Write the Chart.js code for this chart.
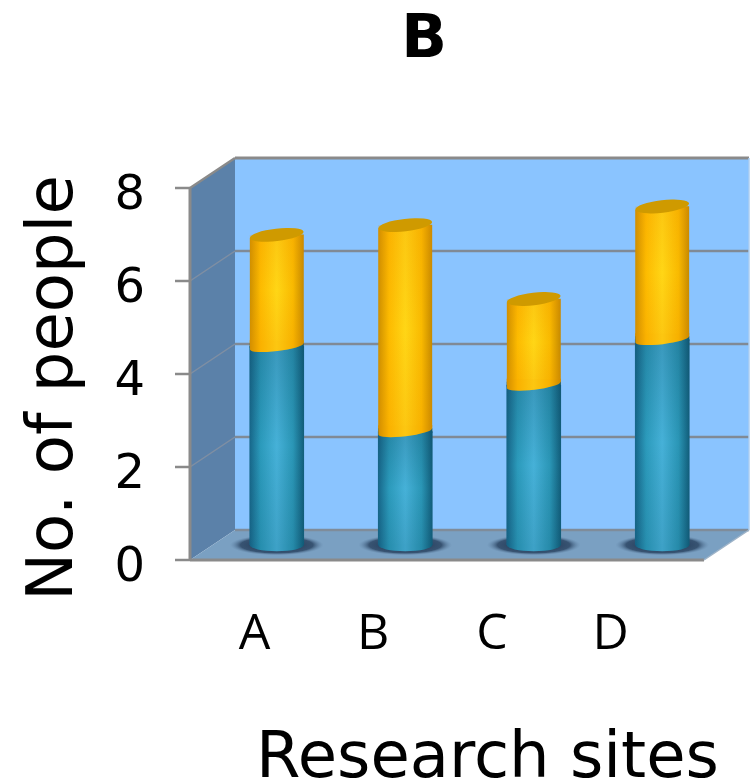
<!DOCTYPE html>
<html>
<head>
<meta charset="utf-8">
<style>
html,body{margin:0;padding:0;background:#fff}
canvas{display:block}
</style>
<script src="https://cdn.jsdelivr.net/npm/chart.js@4/dist/chart.umd.min.js"></script>
</head>
<body>
<canvas id="c" width="754" height="780"></canvas>
<script>
// Survey counts per research site
const sites = ['A', 'B', 'C', 'D'];
const lowerSegment = [4.27, 2.44, 3.44, 4.42];
const upperSegment = [2.40, 4.44, 1.85, 2.86];
const yTicks = [0, 2, 4, 6, 8];

const chartTitle = 'B';
const xTitle = 'Research sites';
const yTitle = 'No. of people';

// Pseudo-3D box: the scales describe the mid-depth plane of the box
const DEPTH_X = 22.5, DEPTH_Y = 15;
const FRAME = '#8a8a8a';
const TILT = 3.2, CAP_RY = 6.2;

const tealStops = ['#17678a', '#2b9abb', '#46b1d8', '#2a96b6', '#125f7c'];
const goldStops = ['#cc8f00', '#fdbb00', '#ffd616', '#f9ba00', '#c48900'];
const tealShade = a => `rgba(10,55,80,${a})`;
const goldShade = a => `rgba(240,140,0,${a})`;

function barGradient(ctx, left, width, stops) {
  const g = ctx.createLinearGradient(left, 0, left + width, 0);
  [0, 0.2, 0.5, 0.8, 1].forEach((p, i) => g.addColorStop(p, stops[i]));
  return g;
}

function scriptedFill(stops) {
  return c => {
    const chart = c.chart;
    if (!chart.chartArea || c.dataIndex === undefined) return stops[2];
    const x = chart.scales.x.getPixelForValue(c.dataIndex);
    return barGradient(chart.ctx, x - 27, 54, stops);
  };
}

const box3d = {
  id: 'box3d',
  beforeDatasetsDraw(chart) {
    const { ctx, chartArea: a, scales: { y } } = chart;
    const fl = a.left - DEPTH_X, fr = a.right - DEPTH_X;
    const bl = a.left + DEPTH_X, br = a.right + DEPTH_X;
    const py = v => y.getPixelForValue(v);
    const fy = v => py(v) + DEPTH_Y, by = v => py(v) - DEPTH_Y;
    const poly = (pts, fill) => {
      ctx.beginPath();
      pts.forEach((p, i) => i ? ctx.lineTo(p[0], p[1]) : ctx.moveTo(p[0], p[1]));
      ctx.closePath();
      ctx.fillStyle = fill;
      ctx.fill();
    };
    const line = (x1, y1, x2, y2, w, col) => {
      ctx.beginPath();
      ctx.moveTo(x1, y1);
      ctx.lineTo(x2, y2);
      ctx.lineWidth = w;
      ctx.strokeStyle = col || FRAME;
      ctx.stroke();
    };
    ctx.save();
    // walls and floor
    poly([[bl, by(8)], [br, by(8)], [br, by(0)], [bl, by(0)]], '#8ac4ff');
    poly([[fl, fy(8)], [bl, by(8)], [bl, by(0)], [fl, fy(0)]], '#5b81a9');
    poly([[fl, fy(0)], [fr, fy(0)], [br, by(0)], [bl, by(0)]], '#7aa0c2');
    // grid on the back and side walls, tick stubs on the front edge
    yTicks.forEach(v => {
      if (v > 0 && v < 8) {
        line(bl, by(v), br, by(v), 2.5, '#808a96');
        line(fl, fy(v), bl, by(v), 1.5, '#7f8fa3');
      }
      line(fl - 15, fy(v), fl, fy(v), 2.5);
    });
    // frame edges
    line(fl, fy(8), fl, fy(0), 3);
    line(fl, fy(8), bl, by(8), 2.5);
    line(bl, by(8), br, by(8), 3);
    line(fl, fy(0), fr, fy(0), 3);
    line(bl, by(0), br, by(0), 2.5, '#7f8c9a');
    line(fr, fy(0), br, by(0), 1.5, '#9fb4c8');
    line(br, by(8), br, by(0), 1.5, '#a9cdf2');
    // soft contact shadows on the floor
    chart.getDatasetMeta(0).data.forEach(bar => {
      ctx.save();
      ctx.translate(bar.x, bar.base);
      ctx.scale(1, 0.22);
      const g = ctx.createRadialGradient(0, 0, 20, 0, 0, 47);
      g.addColorStop(0, 'rgba(38,62,92,0.95)');
      g.addColorStop(0.6, 'rgba(44,70,100,0.85)');
      g.addColorStop(1, 'rgba(100,135,170,0)');
      ctx.fillStyle = g;
      ctx.beginPath();
      ctx.arc(0, 0, 47, 0, Math.PI * 2);
      ctx.fill();
      ctx.restore();
    });
    ctx.restore();
  },
  beforeDatasetDraw(chart, args) {
    // the slanted rim of each cap trims the upper corner of the bar
    const { ctx } = chart;
    ctx.save();
    if (args.index !== 1) return;
    ctx.beginPath();
    args.meta.data.forEach(bar => {
      const l = bar.x - bar.width / 2, r = bar.x + bar.width / 2;
      ctx.moveTo(l, bar.y + TILT);
      ctx.lineTo(r, bar.y - TILT);
      ctx.lineTo(r, bar.base);
      ctx.lineTo(l, bar.base);
      ctx.closePath();
    });
    ctx.clip();
  },
  afterDatasetDraw(chart) {
    chart.ctx.restore();
  },
  afterDatasetsDraw(chart) {
    const { ctx } = chart;
    const lower = chart.getDatasetMeta(0).data;
    const upper = chart.getDatasetMeta(1).data;
    const rot = -Math.atan2(TILT, 27);
    const GOLD_EDGE = 0.2;
    // vertical falloff so each segment glows around its middle
    const falloff = (l, w, top, bottom, tint, topA, botA) => {
      const g = ctx.createLinearGradient(0, top, 0, bottom);
      g.addColorStop(0, tint(topA));
      g.addColorStop(0.5, tint(0));
      g.addColorStop(1, tint(botA));
      ctx.fillStyle = g;
      ctx.fillRect(l, top, w, bottom - top);
    };
    // paints the current path with a gradient plus a flat tint over it
    const paint = (grad, tint, a) => {
      ctx.fillStyle = grad;
      ctx.fill();
      ctx.fillStyle = tint(a);
      ctx.fill();
    };
    ctx.save();
    lower.forEach((bar, i) => {
      const w = bar.width, l = bar.x - w / 2, r = bar.x + w / 2;
      const top = upper[i];
      const teal = barGradient(ctx, l, w, tealStops);
      const gold = barGradient(ctx, l, w, goldStops);
      falloff(l, w, bar.y, bar.base, tealShade, 0.2, 0.12);
      falloff(l, w, top.y, bar.y, goldShade, GOLD_EDGE, GOLD_EDGE);
      // rounded foot of the column, overlapping the body by a pixel
      ctx.beginPath();
      ctx.moveTo(l, bar.base - 1);
      ctx.lineTo(r, bar.base - 1);
      ctx.ellipse(bar.x, bar.base, w / 2, CAP_RY, 0, 0, Math.PI);
      ctx.closePath();
      paint(teal, tealShade, 0.12);
      // curved seam: teal fills the wedge on the raised side, gold laps over it
      ctx.beginPath();
      ctx.rect(l, bar.y - TILT, w, TILT + 1.5);
      paint(teal, tealShade, 0.2);
      ctx.beginPath();
      ctx.moveTo(l, bar.y - TILT - 3);
      ctx.lineTo(r, bar.y - TILT - 3);
      ctx.ellipse(bar.x, bar.y, w / 2, CAP_RY - 1.5, rot, 0, Math.PI);
      ctx.closePath();
      paint(gold, goldShade, GOLD_EDGE);
      // flat top of the column
      ctx.beginPath();
      ctx.ellipse(top.x, top.y, w / 2, CAP_RY, rot, 0, Math.PI * 2);
      ctx.fillStyle = '#cf9a00';
      ctx.fill();
    });
    ctx.restore();
    // free-standing captions
    const axisFont = '"DejaVu Sans", sans-serif';
    ctx.save();
    ctx.fillStyle = '#000';
    ctx.textAlign = 'center';
    ctx.textBaseline = 'alphabetic';
    ctx.font = 'bold 60px ' + axisFont;
    ctx.fillText(chartTitle, 424, 57);
    ctx.font = '64px ' + axisFont;
    ctx.fillText(xTitle, 487.5, 777);
    ctx.translate(72, 388);
    ctx.rotate(-Math.PI / 2);
    ctx.fillText(yTitle, 0, 0);
    ctx.restore();
  }
};

new Chart(document.getElementById('c'), {
  type: 'bar',
  data: {
    labels: sites,
    datasets: [
      { label: 'Lower', data: lowerSegment, backgroundColor: scriptedFill(tealStops), borderWidth: 0 },
      { label: 'Upper', data: upperSegment, backgroundColor: scriptedFill(goldStops), borderWidth: 0 }
    ]
  },
  options: {
    responsive: false,
    animation: false,
    events: [],
    layout: { padding: { top: 173, right: 27.5, left: 0, bottom: 0 } },
    datasets: { bar: { barThickness: 54 } },
    plugins: { legend: { display: false }, title: { display: false }, tooltip: { enabled: false } },
    scales: {
      x: { type: 'category', stacked: true, display: false },
      siteLabels: {
        type: 'linear',
        position: 'bottom',
        axis: 'x',
        offset: false,
        bounds: 'data',
        min: -0.354,
        max: 3.976,
        grid: { display: false, offset: false, drawTicks: true, tickLength: 60 },
        border: { display: false },
        afterFit: s => { s.height = 235; },
        afterBuildTicks: s => { s.ticks = sites.map((_, i) => ({ value: i })); },
        ticks: {
          color: '#000',
          font: { family: '"Open Sans", sans-serif', size: 50 },
          padding: 0,
          maxRotation: 0,
          autoSkip: false,
          callback: v => sites[v]
        }
      },
      y: {
        stacked: true,
        min: 0,
        max: 8,
        grid: { display: false },
        border: { display: false },
        afterFit: s => { s.width = 212.5; },
        afterBuildTicks: s => { s.ticks = yTicks.map(v => ({ value: v })); },
        ticks: {
          color: '#000',
          font: { family: '"DejaVu Sans", sans-serif', size: 48 },
          padding: 59.5,
          labelOffset: 24
        }
      }
    }
  },
  plugins: [box3d]
});
</script>
</body>
</html>
